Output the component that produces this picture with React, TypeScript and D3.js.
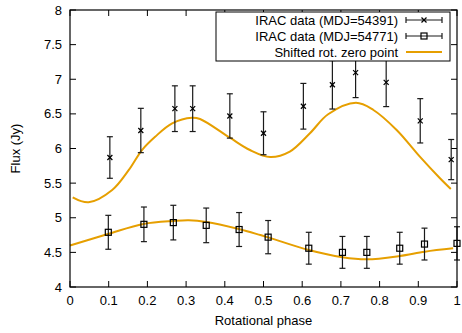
import React from 'react';
import * as d3 from 'd3';

// upper IRAC set (MDJ=54391)
const phaseA = [0.103, 0.183, 0.271, 0.317, 0.413, 0.500, 0.603, 0.678, 0.738, 0.817, 0.905, 0.985];
const fluxA = [5.87, 6.26, 6.575, 6.575, 6.47, 6.22, 6.61, 6.92, 7.095, 6.955, 6.40, 5.84];
const errA = [0.30, 0.32, 0.33, 0.33, 0.32, 0.31, 0.33, 0.35, 0.36, 0.35, 0.32, 0.29];

// lower IRAC set (MDJ=54771)
const phaseB = [0.099, 0.191, 0.267, 0.352, 0.437, 0.512, 0.617, 0.704, 0.767, 0.852, 0.916, 1.0];
const fluxB = [4.79, 4.905, 4.93, 4.89, 4.83, 4.72, 4.56, 4.50, 4.50, 4.56, 4.62, 4.63];
const errB = [0.245, 0.25, 0.25, 0.25, 0.245, 0.24, 0.23, 0.23, 0.23, 0.23, 0.23, 0.24];

// shifted rot. zero point model
const modelUpX = [0.007, 0.048, 0.109, 0.152, 0.186, 0.22, 0.264, 0.315, 0.336, 0.413, 0.465, 0.517, 0.568, 0.62, 0.667, 0.739, 0.784, 0.844, 0.904, 0.956, 0.984];
const modelUpY = [5.295, 5.223, 5.40, 5.69, 5.978, 6.17, 6.364, 6.445, 6.426, 6.156, 5.978, 5.877, 5.955, 6.22, 6.494, 6.66, 6.556, 6.267, 5.882, 5.57, 5.415];
const modelLoX = [0.0, 0.098, 0.19, 0.268, 0.307, 0.352, 0.436, 0.492, 0.512, 0.617, 0.704, 0.767, 0.852, 0.917, 0.99];
const modelLoY = [4.60, 4.765, 4.91, 4.953, 4.963, 4.94, 4.838, 4.75, 4.717, 4.534, 4.43, 4.40, 4.448, 4.51, 4.558];

const xTicks = [0, 0.1, 0.2, 0.3, 0.4, 0.5, 0.6, 0.7, 0.8, 0.9, 1];
const yTicks = [4, 4.5, 5, 5.5, 6, 6.5, 7, 7.5, 8];
const legendLabels = ['IRAC data (MDJ=54391)', 'IRAC data (MDJ=54771)', 'Shifted rot. zero point'];

const W = 462, H = 333;
const margin = { top: 10, right: 5, bottom: 46, left: 70 };
const ORANGE = '#e69f00';
const FONT = 'Liberation Sans, Arial, sans-serif';

export default function App() {
  const x = d3.scaleLinear().domain([0, 1]).range([margin.left, W - margin.right]);
  const y = d3.scaleLinear().domain([4, 8]).range([H - margin.bottom, margin.top]);

  const line = d3.line<[number, number]>()
    .x(d => x(d[0])).y(d => y(d[1]))
    .curve(d3.curveCatmullRom.alpha(0.5));

  const up = modelUpX.map((v, i) => [v, modelUpY[i]] as [number, number]);
  const lo = modelLoX.map((v, i) => [v, modelLoY[i]] as [number, number]);

  const x0 = x(0), x1 = x(1), y0 = y(4), y1 = y(8);
  const tk = 6;

  const errBar = (px: number, py: number, e: number, key: string) => (
    <g key={key} stroke="#1a1a1a" strokeWidth={1.2}>
      <line x1={x(px)} x2={x(px)} y1={y(py - e)} y2={y(py + e)} />
      <line x1={x(px) - 3} x2={x(px) + 3} y1={y(py + e)} y2={y(py + e)} />
      <line x1={x(px) - 3} x2={x(px) + 3} y1={y(py - e)} y2={y(py - e)} />
    </g>
  );
  const cross = (cx: number, cy: number, key: string) => (
    <g key={key} stroke="#000" strokeWidth={1.2}>
      <line x1={cx - 2.5} x2={cx + 2.5} y1={cy - 2.5} y2={cy + 2.5} />
      <line x1={cx - 2.5} x2={cx + 2.5} y1={cy + 2.5} y2={cy - 2.5} />
    </g>
  );
  const square = (cx: number, cy: number, key: string) => (
    <rect key={key} x={cx - 3} y={cy - 3} width={6} height={6} fill="none" stroke="#000" strokeWidth={1.2} />
  );

  // legend layout
  const lgL = 216, lgR = 450, lgT = 12, lgB = 61;
  const rowY = [20, 36, 52];
  const sx0 = 406, sx1 = 442;

  return (
    <svg width={W} height={H} style={{ position: 'absolute', left: 0, top: 0, background: '#fff' }} fontFamily={FONT}>
      {/* ticks, mirrored inward on all four sides */}
      <g stroke="#000" strokeWidth={1}>
        {xTicks.map(t => (
          <g key={'xt' + t}>
            <line x1={x(t)} x2={x(t)} y1={y0} y2={y0 - tk} />
            <line x1={x(t)} x2={x(t)} y1={y1} y2={y1 + tk} />
          </g>
        ))}
        {yTicks.map(t => (
          <g key={'yt' + t}>
            <line x1={x0} x2={x0 + tk} y1={y(t)} y2={y(t)} />
            <line x1={x1} x2={x1 - tk} y1={y(t)} y2={y(t)} />
          </g>
        ))}
      </g>
      <g fontSize={13} fill="#000">
        {xTicks.map(t => (
          <text key={'xl' + t} x={x(t)} y={y0 + 18} textAnchor="middle">{String(t)}</text>
        ))}
        {yTicks.map(t => (
          <text key={'yl' + t} x={x0 - 8} y={y(t) + 4.5} textAnchor="end">{String(t)}</text>
        ))}
      </g>
      <text x={(x0 + x1) / 2} y={H - 8} textAnchor="middle" fontSize={13}>Rotational phase</text>
      <text transform={`translate(20,${(y0 + y1) / 2}) rotate(-90)`} textAnchor="middle" fontSize={13}>Flux (Jy)</text>

      {/* model curves */}
      <path d={line(up) || ''} fill="none" stroke={ORANGE} strokeWidth={2} />
      <path d={line(lo) || ''} fill="none" stroke={ORANGE} strokeWidth={2} />

      {/* data */}
      {phaseA.map((p, i) => errBar(p, fluxA[i], errA[i], 'ea' + i))}
      {phaseA.map((p, i) => cross(x(p), y(fluxA[i]), 'ma' + i))}
      {phaseB.map((p, i) => errBar(p, fluxB[i], errB[i], 'eb' + i))}
      {phaseB.map((p, i) => square(x(p), y(fluxB[i]), 'mb' + i))}

      {/* legend */}
      <rect x={lgL} y={lgT} width={lgR - lgL} height={lgB - lgT} fill="#fff" stroke="#000" strokeWidth={1} />
      {legendLabels.map((l, i) => (
        <text key={l} x={sx0 - 8} y={rowY[i] + 4.5} textAnchor="end" fontSize={13}>{l}</text>
      ))}
      <g stroke="#1a1a1a" strokeWidth={1.2}>
        {[0, 1].map(i => (
          <g key={'ls' + i}>
            <line x1={sx0} x2={sx1} y1={rowY[i]} y2={rowY[i]} />
            <line x1={sx0} x2={sx0} y1={rowY[i] - 3} y2={rowY[i] + 3} />
            <line x1={sx1} x2={sx1} y1={rowY[i] - 3} y2={rowY[i] + 3} />
          </g>
        ))}
      </g>
      {cross((sx0 + sx1) / 2, rowY[0], 'lc')}
      {square((sx0 + sx1) / 2, rowY[1], 'lsq')}
      <line x1={sx0} x2={sx1} y1={rowY[2]} y2={rowY[2]} stroke={ORANGE} strokeWidth={2} />

      {/* frame */}
      <rect x={x0} y={y1} width={x1 - x0} height={y0 - y1} fill="none" stroke="#000" strokeWidth={1.2} />
    </svg>
  );
}
